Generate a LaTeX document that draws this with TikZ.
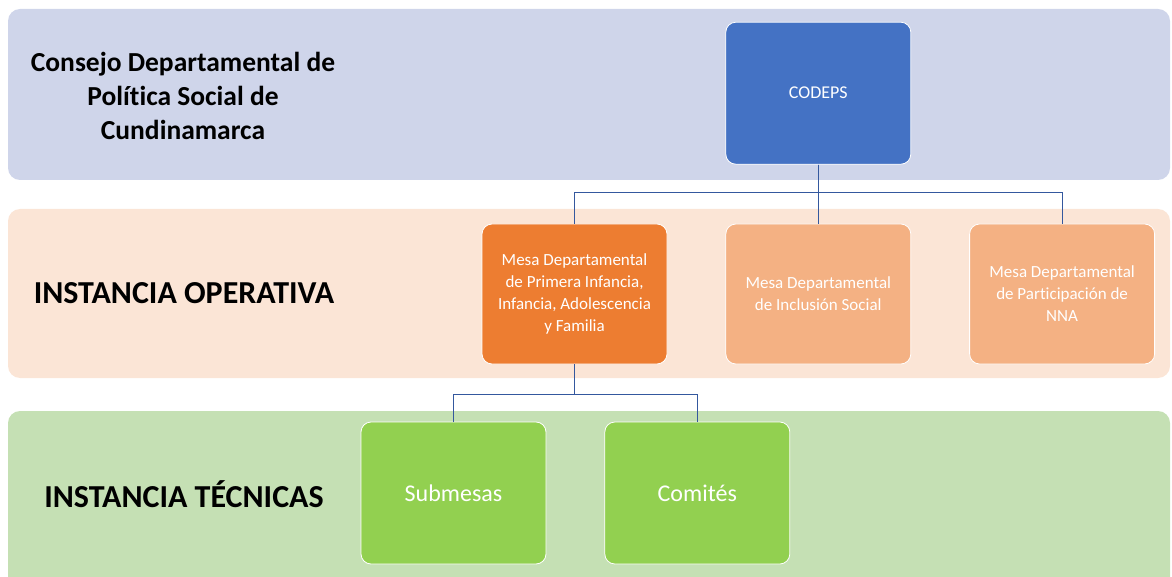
\documentclass[tikz,border=0pt]{standalone}
\usepackage{fontspec}
\setmainfont[Ligatures=NoCommon]{Carlito}
\usepackage{xcolor}
\usetikzlibrary{positioning}

\definecolor{franjaazul}{HTML}{CFD5EA}
\definecolor{franjanaranja}{HTML}{FBE5D6}
\definecolor{franjaverde}{HTML}{C5E0B4}
\definecolor{azul}{HTML}{4472C4}
\definecolor{naranja}{HTML}{ED7D31}
\definecolor{naranjaclaro}{HTML}{F4B183}
\definecolor{verde}{HTML}{92D050}
\definecolor{linea}{HTML}{34589E}

\begin{document}
\begin{tikzpicture}[x=1pt,y=-1pt,node distance=58pt]
\tikzstyle{franja}=[rounded corners=12pt]
\tikzstyle{caja}=[draw=white,line width=0.8pt,rounded corners=10pt,minimum width=185pt,minimum height=140pt,inner sep=0pt,align=center,text=white]
\tikzstyle{titulo}=[align=center,font=\bfseries]
\tikzstyle{conector}=[draw=linea,line width=1.2pt]
\useasboundingbox (0,0) rectangle (1172,577);
%franjas de fondo
\fill[franja,franjaazul] (8,9) rectangle (1170,180);
\fill[franja,franjanaranja] (8,209) rectangle (1170,378);
\fill[franja,franjaverde] (8,411) rectangle (1170,600);
%titulos
\node[titulo,font=\bfseries\fontsize{27.5}{34}\selectfont] (consejo) at (183,96) {Consejo Departamental de\\Política Social de\\Cundinamarca};
\node[titulo,font=\bfseries\fontsize{32}{38}\selectfont] (operativa) at (184,293) {INSTANCIA OPERATIVA};
\node[titulo,font=\bfseries\fontsize{32}{38}\selectfont] (tecnicas) at (184,494) {INSTANCIA TÉCNICAS};
%cajas
\node[caja,fill=naranja,font=\fontsize{17}{22}\selectfont] (mesa1) at (574.5,294) {Mesa Departamental\\de Primera Infancia,\\Infancia, Adolescencia\\y Familia};
\node[caja,fill=naranjaclaro,font=\fontsize{17}{22}\selectfont] (mesa2) [right=of mesa1] {Mesa Departamental\\de Inclusión Social};
\node[caja,fill=naranjaclaro,font=\fontsize{17}{22}\selectfont] (mesa3) [right=of mesa2] {Mesa Departamental\\de Participación de\\NNA};
\node[caja,fill=azul,minimum height=142pt,font=\fontsize{18}{22}\selectfont] (codeps) [above=59pt of mesa2] {CODEPS};
\node[caja,fill=verde,minimum height=142pt,font=\fontsize{24}{28}\selectfont] (submesas) at (453.5,493) {Submesas};
\node[caja,fill=verde,minimum height=142pt,font=\fontsize{24}{28}\selectfont] (comites) [right=of submesas] {Comités};
%conexiones
\draw[conector] (codeps.south) -- ++(0,28) -| (mesa1.north);
\draw[conector] (codeps.south) -- ++(0,28) -| (mesa3.north);
\draw[conector] (codeps.south) -- (mesa2.north);
\draw[conector] (mesa1.south) -- ++(0,30) -| (submesas.north);
\draw[conector] (mesa1.south) -- ++(0,30) -| (comites.north);
\end{tikzpicture}
\end{document}
